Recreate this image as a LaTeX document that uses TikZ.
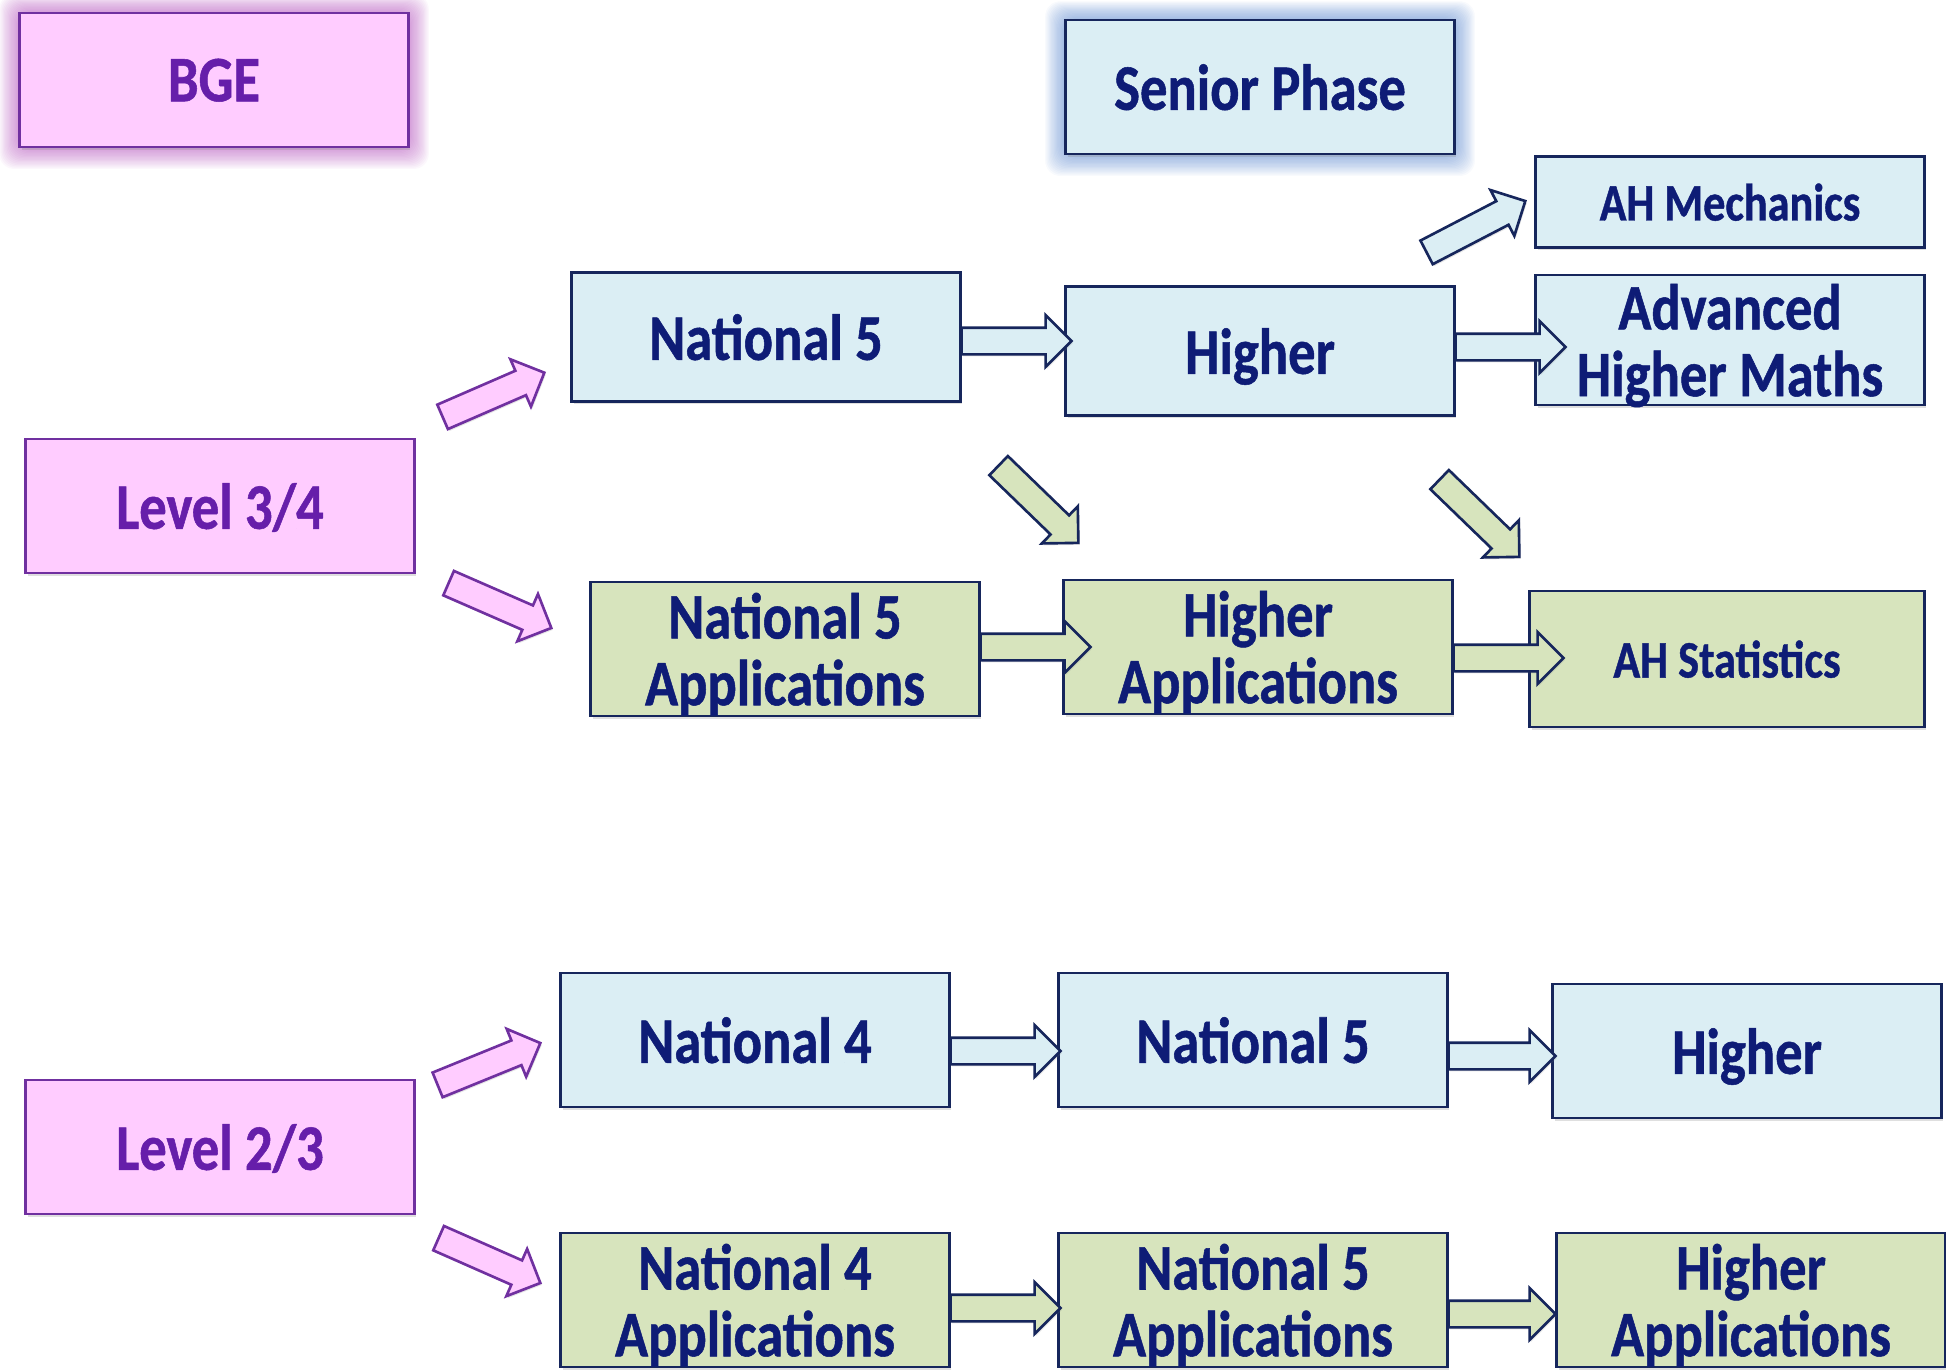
\documentclass[tikz,border=0pt]{standalone}
\usepackage{fontspec}
\setmainfont{Carlito}[FakeStretch=0.84, BoldFeatures={FakeBold=0.8}]
\usetikzlibrary{calc,shapes.arrows,shadows,backgrounds}

\definecolor{azulcaja}{RGB}{219,238,244}
\definecolor{verdecaja}{RGB}{215,228,189}
\definecolor{rosacaja}{RGB}{255,204,255}
\definecolor{marino}{RGB}{14,28,118}
\definecolor{bordemarino}{RGB}{22,38,92}
\definecolor{morado}{RGB}{112,48,160}
\definecolor{textomorado}{RGB}{102,30,170}
\definecolor{brilloazul}{RGB}{70,120,200}
\definecolor{brillorosa}{RGB}{170,60,180}

\tikzset{
  caja/.style={draw=bordemarino, line width=1.3pt, minimum width=7.78cm,
    minimum height=2.68cm, align=center, inner sep=0pt, text depth=0pt,
    font=\fontsize{37}{38}\selectfont\bfseries, text=marino,
    drop shadow={opacity=0.25, shadow xshift=0.04cm, shadow yshift=-0.06cm}},
  azul/.style={caja, fill=azulcaja},
  verde/.style={caja, fill=verdecaja},
  rosa/.style={caja, fill=rosacaja, draw=morado, text=textomorado},
  chica/.style={font=\fontsize{30}{32}\selectfont\bfseries},
  flecha/.style={single arrow, draw=bordemarino, line width=1.5pt, inner xsep=0pt,
    inner ysep=0.24cm, minimum width=0.98cm, single arrow head extend=0.25cm,
    single arrow tip angle=90, outer sep=0pt,
    drop shadow={opacity=0.2, shadow xshift=0.03cm, shadow yshift=-0.04cm}},
  fazul/.style={flecha, fill=azulcaja},
  fverde/.style={flecha, fill=verdecaja},
  frosa/.style={flecha, fill=rosacaja, draw=morado},
}

% flecha de bloque: estilo, desde, hasta
\newcommand{\bloque}[3]{%
  \path let \p1=($(#3)-(#2)$), \n1={atan2(\y1,\x1)}, \n2={veclen(\x1,\y1)} in
    node[#1, rotate=\n1, minimum height=\n2, anchor=tail] at (#2) {};}

\begin{document}
\begin{tikzpicture}[x=0.02cm, y=-0.02cm]
\useasboundingbox (0,0) rectangle (1946,1369);

% Encabezados
\node[rosa] (bge) at (214,80) {BGE};
\node[azul] (senior) at (1260,87) {Senior Phase};

% Nivel 3/4
\node[rosa] (l34) at (220,506) {Level 3/4};
\node[azul, minimum height=2.58cm] (n5) at (766,337) {National 5};
\node[azul, minimum height=2.58cm] (hi) at (1260,351) {Higher};
\node[azul, chica, minimum height=1.82cm] (ahmec) at (1730,202) {AH Mechanics};
\node[azul, minimum height=2.6cm] (ahm) at (1730,340) {Advanced\\Higher Maths};
\node[verde] (n5a) at (785,649) {National 5\\Applications};
\node[verde] (ha) at (1258,647) {Higher\\Applications};
\node[verde, chica, minimum width=7.9cm, minimum height=2.72cm] (ahs) at (1727,659) {AH Statistics};

% Nivel 2/3
\node[rosa] (l23) at (220,1147) {Level 2/3};
\node[azul] (n4) at (755,1040) {National 4};
\node[azul] (n5b) at (1253,1040) {National 5};
\node[azul] (hb) at (1747,1051) {Higher};
\node[verde] (n4a) at (755,1300) {National 4\\Applications};
\node[verde] (n5ab) at (1253,1300) {National 5\\Applications};
\node[verde] (hab) at (1751,1300) {Higher\\Applications};

% Brillo de los encabezados
\begin{scope}[on background layer]
\foreach \n/\c in {bge/brillorosa, senior/brilloazul}
  \foreach \i in {1,...,16}
    \fill[\c, opacity=0.04, rounded corners=0.3cm]
      ([shift={(-\i*0.024cm,-\i*0.026cm)}]\n.south west) rectangle
      ([shift={(\i*0.024cm,\i*0.022cm)}]\n.north east);
\end{scope}

% Flechas horizontales
\foreach \a/\b/\dy/\dx/\f in {n5/hi/4/7/fazul, hi/ahm/-4/31/fazul,
    n5a/ha/-2/28/fverde, ha/ahs/11/35/fverde, n4/n5b/11/3/fazul,
    n5b/hb/16/4/fazul, n4a/n5ab/8/3/fverde, n5ab/hab/14/0/fverde} {
  \coordinate (s) at ($(\a.east)+(0,\dy)$);
  \coordinate (t) at ($(s -| \b.west)+(\dx,0)$);
  \bloque{\f}{s}{t}
}

% Flechas diagonales
\foreach \a/\ax/\ay/\b/\bx/\by/\f in {
    l34.north east/27/-21/n5.south west/-26/-30/frosa,
    l34.south east/33/9/n5a.west/-38/-21/frosa,
    l23.north east/22/6/n4.west/-19/3/frosa,
    l23.south east/23/23/n4a.west/-19/-17/frosa,
    hi.north east/-29/-33/ahmec.west/-9/-1/fazul,
    n5.south east/37/63/ha.north west/16/-36/fverde,
    hi.south east/-16/63/ahs.north west/-9/-33/fverde} {
  \coordinate (s) at ($(\a)+(\ax,\ay)$);
  \coordinate (t) at ($(\b)+(\bx,\by)$);
  \bloque{\f}{s}{t}
}

\end{tikzpicture}
\end{document}
